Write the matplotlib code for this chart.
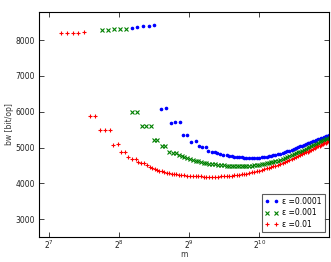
import matplotlib
matplotlib.use("Agg")
import matplotlib.pyplot as plt

# m values shared by the dense right-hand part of every series
TAIL_M = [370, 380, 390, 400, 410, 420, 430, 440, 450, 460, 470, 485, 500, 515, 530,
          545, 560, 575, 590, 605, 620, 640, 660, 680, 700, 720, 740, 760, 780, 800,
          820, 840, 860, 880, 900, 925, 950, 975, 1000, 1025, 1050, 1075, 1100, 1125,
          1150, 1175, 1200, 1230, 1260, 1290, 1320, 1350, 1380, 1410, 1440, 1470, 1500,
          1530, 1560, 1590, 1620, 1650, 1680, 1710, 1740, 1770, 1800, 1830, 1860, 1890,
          1920, 1950, 1980, 2010, 2040]

# eps = 0.01
red_m_head = [144, 152, 161, 170, 180, 191, 202, 211, 222, 233, 241, 252, 260, 271,
              280, 291, 301, 309, 317, 326, 336, 345, 353, 364]
red_bw_head = [8200, 8205, 8210, 8215, 8220, 5880, 5890, 5480, 5485, 5490, 5080, 5090,
               4875, 4885, 4740, 4690, 4680, 4600, 4570, 4555, 4500, 4460, 4415, 4390]
red_bw_tail = [4378, 4357, 4337, 4317, 4299, 4286, 4273, 4261, 4252, 4242, 4233, 4224,
               4215, 4206, 4201, 4197, 4192, 4190, 4188, 4187, 4186, 4185, 4185, 4186,
               4190, 4193, 4199, 4205, 4212, 4220, 4229, 4237, 4248, 4259, 4271, 4285,
               4302, 4320, 4338, 4356, 4375, 4394, 4414, 4434, 4454, 4476, 4497, 4522,
               4548, 4575, 4603, 4630, 4658, 4684, 4710, 4736, 4762, 4788, 4813, 4837,
               4862, 4886, 4910, 4934, 4958, 4982, 5006, 5030, 5054, 5076, 5097, 5117,
               5137, 5158, 5179]

# eps = 0.001
green_m_head = [216, 229, 243, 257, 273, 290, 304, 320, 334, 350, 361, 373, 390, 402,
                420, 434, 449, 464, 475, 486]
green_bw_head = [8290, 8295, 8300, 8305, 8310, 5980, 5985, 5595, 5600, 5605, 5200, 5210,
                 5035, 5045, 4880, 4860, 4850, 4790, 4760, 4740]
green_bw_tail = [4712, 4682, 4658, 4635, 4613, 4593, 4578, 4564, 4552, 4538, 4526, 4517,
                 4510, 4503, 4497, 4492, 4487, 4484, 4482, 4480, 4481, 4483, 4486, 4489,
                 4495, 4502, 4510, 4518, 4530, 4543, 4555, 4568, 4582, 4598, 4614, 4633,
                 4652, 4678, 4703, 4728, 4753, 4780, 4807, 4834, 4861, 4888, 4913, 4937,
                 4962, 4986, 5011, 5034, 5058, 5082, 5106, 5130, 5154, 5174, 5193, 5212,
                 5231, 5250, 5269]

# eps = 0.0001
blue_m_head = [290, 306, 324, 343, 362, 387, 405, 426, 445, 467, 482, 502, 522, 544,
               564, 583, 602, 618, 639, 660, 671, 694, 717, 741]
blue_bw_head = [8355, 8370, 8390, 8405, 8420, 6090, 6095, 5690, 5700, 5715, 5345, 5350,
                5160, 5175, 5035, 5025, 5020, 4910, 4880, 4865, 4835, 4810, 4800, 4790]
blue_bw_tail = [4770, 4756, 4743, 4735, 4728, 4722, 4717, 4714, 4712, 4711, 4710, 4714,
                4720, 4727, 4733, 4743, 4755, 4767, 4780, 4793, 4812, 4831, 4851, 4870,
                4893, 4916, 4939, 4961, 4984, 5007, 5029, 5052, 5075, 5097, 5116, 5136,
                5155, 5175, 5194, 5212, 5228, 5245, 5261, 5277, 5294, 5311, 5328, 5345]

labels = ["\u03b5 =0.0001", "\u03b5 =0.001", "\u03b5 =0.01"]
xticks = [128, 256, 512, 1024]

red_m = red_m_head + TAIL_M
green_m = green_m_head + [m for m in TAIL_M if m >= 500]
blue_m = blue_m_head + [m for m in TAIL_M if m >= 760]

plt.rcParams.update({"font.size": 5.5, "xtick.direction": "in", "ytick.direction": "in",
                     "xtick.top": True, "ytick.right": True})
fig = plt.figure(figsize=(3.31, 2.62), dpi=100)
ax = fig.add_axes([0.118, 0.097, 0.877, 0.856])

ax.plot(blue_m, blue_bw_head + blue_bw_tail, ".", color="b", ms=3.2, label=labels[0])
ax.plot(green_m, green_bw_head + green_bw_tail, "x", color="g", ms=3, mew=0.8, label=labels[1])
ax.plot(red_m, red_bw_head + red_bw_tail, "+", color="r", ms=3.5, mew=0.8, label=labels[2])

ax.set_xscale("log", base=2)
ax.set_xlim(115.5, 2048)
ax.set_ylim(2510, 8780)
ax.set_xticks(xticks)
ax.set_xticklabels([f"$2^{{{i}}}$" for i in range(7, 11)])
ax.minorticks_off()
ax.set_yticks([3000, 4000, 5000, 6000, 7000, 8000])
ax.tick_params(length=3.5, width=0.6, colors="#222222")
ax.tick_params(axis="x", pad=1.5)
ax.tick_params(axis="y", pad=3)
for s in ax.spines.values():
    s.set_linewidth(0.8)
ax.set_xlabel("m", color="#333333")
ax.xaxis.set_label_coords(0.5, -0.062)
ax.set_ylabel("bw [bit/op]", color="#333333")
ax.yaxis.set_label_coords(-0.085, 0.5)
leg = ax.legend(loc="lower right", numpoints=2, fancybox=False, fontsize=5.5,
                borderaxespad=0.6, handletextpad=0.5, labelspacing=0.35,
                handlelength=1.8, borderpad=0.4)
leg.get_frame().set_edgecolor("#333333")
leg.get_frame().set_linewidth(0.8)

fig.savefig("out.png", dpi=100)
